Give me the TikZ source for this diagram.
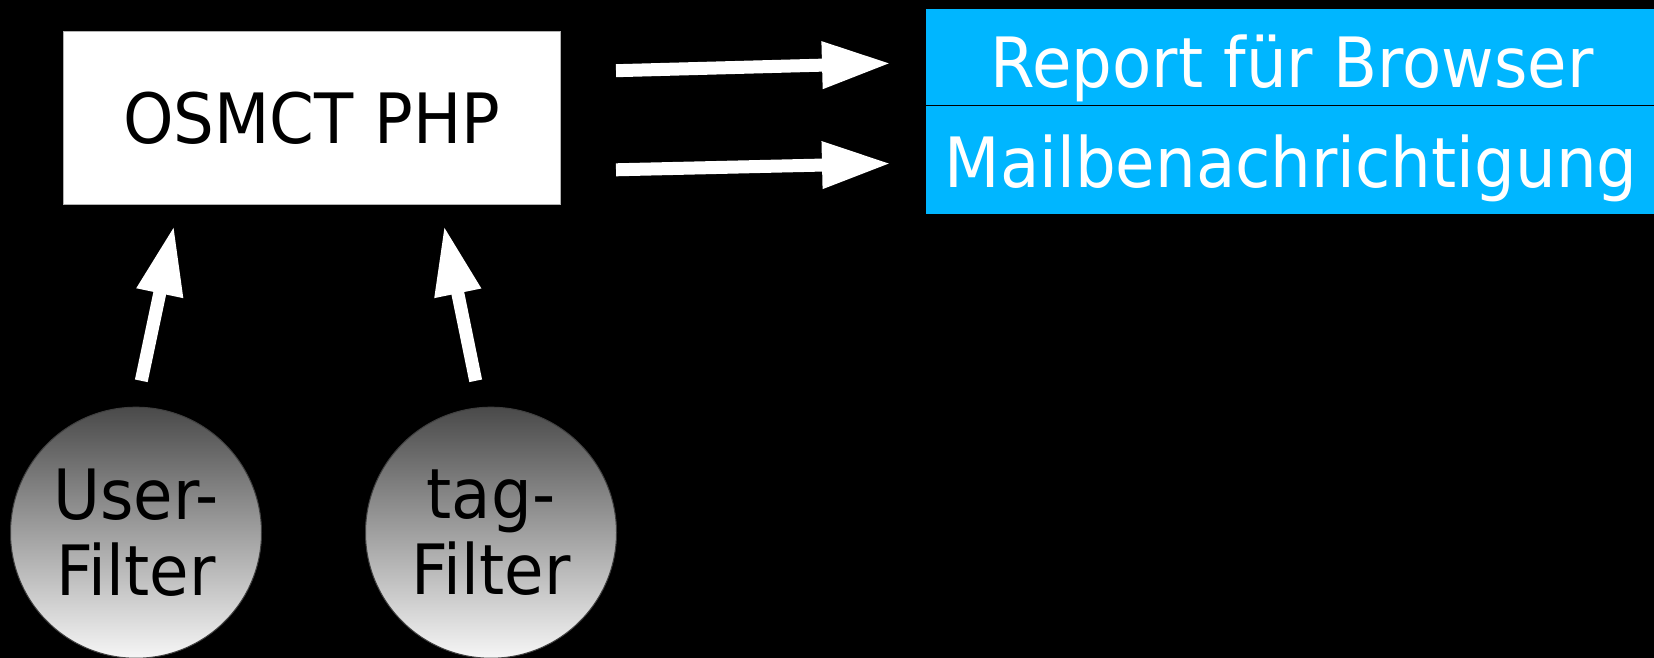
\documentclass[tikz,border=0pt]{standalone}
\usepackage{fontspec}
\setmainfont{DejaVu Sans}[FakeStretch=0.925]
\usetikzlibrary{arrows.meta}
\definecolor{repblue}{HTML}{00B6FF}
\definecolor{circtop}{HTML}{4A4A4A}
\definecolor{circbot}{HTML}{F6F6F6}
\begin{document}
\begin{tikzpicture}[x=1pt,y=-1pt,
  bigtext/.style={font=\fontsize{69.4}{76}\selectfont},
  fat/.style={draw=white,line width=13pt,-{Triangle[length=69pt,width=44pt]}},
  bluebox/.style={rectangle,fill=repblue,draw=black,line width=1pt,minimum width=729pt,inner sep=0pt,anchor=north west},
  filt/.style={circle,minimum size=251pt,inner sep=0pt,top color=circtop,bottom color=circbot,draw=black!75,line width=1pt,bigtext,align=center,text=black}
 ]
\fill[black] (0,0) rectangle (1654,658);
\useasboundingbox (0,0) rectangle (1654,658);

\node[fill=white,draw=gray!60,line width=1pt,minimum width=497pt,minimum height=173pt,inner sep=0pt,bigtext] (osm) at (311.7,118.1) {OSMCT PHP};

\node[bluebox,minimum height=97.1pt] (rep) at (925,8.4) {};
\node[bluebox,minimum height=108.5pt] (mail) at (925,105.5) {};
\node[bigtext,text=white,anchor=base,inner sep=0pt] (reptxt) at (1292,87.5) {Report für Browser};
\node[bigtext,text=white,anchor=base,inner sep=0pt] (mailtxt) at (1291,187.8) {Mailbenachrichtigung};

\coordinate (r1s) at (616,70.7);
\coordinate (r1e) at (891,63.3);
\coordinate (r2s) at (616,169.8);
\coordinate (r2e) at (891,163.5);
\draw[fat] (r1s) -- (r1e);
\draw[fat] (r2s) -- (r2e);

\node[filt] (uf) at (136,532.7) {User-\\Filter};
\node[filt] (tf) at (491,532.7) {tag-\\Filter};

\coordinate (u1s) at (141.3,380.8);
\coordinate (u1e) at (174,225.7);
\coordinate (u2s) at (475.7,380.8);
\coordinate (u2e) at (444,225.7);
\draw[fat] (u1s) -- (u1e);
\draw[fat] (u2s) -- (u2e);
\end{tikzpicture}
\end{document}
